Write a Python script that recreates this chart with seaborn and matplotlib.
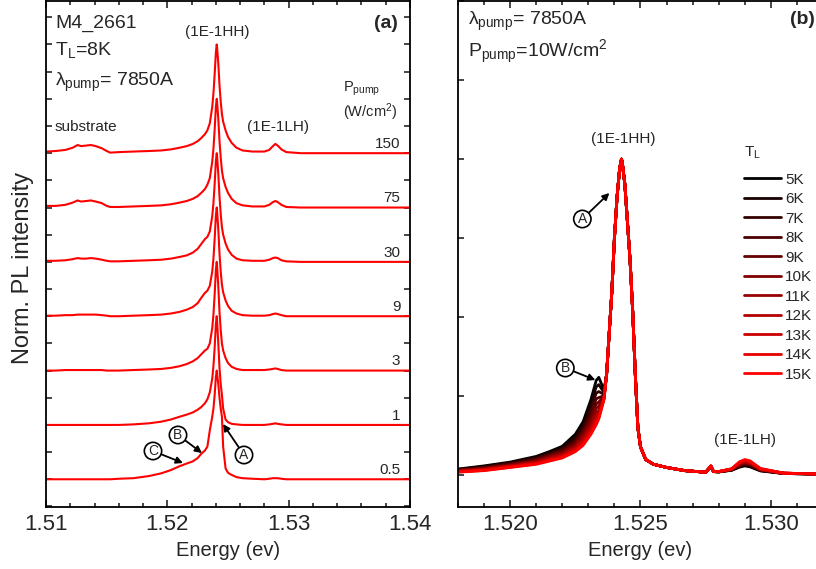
import numpy as np
import pandas as pd
import matplotlib
matplotlib.use("Agg")
import matplotlib.pyplot as plt
import seaborn as sns

# ---------------- data: panel (a) ----------------
powers = ["0.5", "1", "3", "9", "30", "75", "150"]
energy_a = [1.5100, 1.5108, 1.5116, 1.5122, 1.5126, 1.5129, 1.5133, 1.5137, 1.5141, 1.5146,
            1.5150, 1.5153, 1.5160, 1.5172, 1.5185, 1.5195, 1.5203, 1.5210, 1.5216, 1.5221,
            1.5225, 1.5228, 1.5231, 1.5233, 1.5235, 1.5237, 1.5238, 1.5239, 1.52400, 1.52407,
            1.5241, 1.5242, 1.5243, 1.5244, 1.5245, 1.5246, 1.5248, 1.5250, 1.5253, 1.5257,
            1.5262, 1.5270, 1.5280, 1.5284, 1.5287, 1.5289, 1.5291, 1.5294, 1.5298, 1.5310,
            1.5400]
pl_0p5 = [0.00, 0.00, 0.00, 0.00, 0.00, 0.00, 0.00, 0.00, 0.00, 0.00,
          0.00, 0.00, 0.01, 0.02, 0.06, 0.11, 0.17, 0.24, 0.29, 0.33,
          0.39, 0.47, 0.53, 0.60, 0.90, 1.15, 1.30, 1.55, 1.88, 2.00,
          1.95, 1.75, 1.50, 1.30, 1.15, 0.60, 0.20, 0.12, 0.08, 0.04,
          0.02, 0.01, 0.00, 0.01, 0.02, 0.02, 0.02, 0.01, 0.00, 0.00,
          0.00]
pl_1 = [0.00, 0.00, 0.00, 0.00, 0.00, 0.00, 0.00, 0.00, 0.00, 0.00,
        0.00, 0.00, 0.00, 0.01, 0.03, 0.06, 0.10, 0.15, 0.19, 0.23,
        0.28, 0.33, 0.40, 0.47, 0.60, 0.85, 1.08, 1.42, 1.85, 2.00,
        1.92, 1.50, 1.05, 0.75, 0.55, 0.30, 0.10, 0.05, 0.02, 0.01,
        0.00, 0.00, 0.00, 0.01, 0.02, 0.03, 0.02, 0.01, 0.00, 0.00,
        0.00]
pl_3 = [0.00, 0.00, 0.01, 0.01, 0.01, 0.01, 0.01, 0.01, 0.01, 0.01,
        0.00, 0.00, 0.00, 0.01, 0.02, 0.03, 0.05, 0.08, 0.12, 0.17,
        0.23, 0.30, 0.37, 0.40, 0.50, 0.78, 1.03, 1.40, 1.85, 2.00,
        1.93, 1.55, 1.08, 0.74, 0.50, 0.37, 0.23, 0.14, 0.07, 0.03,
        0.01, 0.01, 0.01, 0.02, 0.03, 0.04, 0.03, 0.01, 0.00, 0.00,
        0.00]
pl_9 = [0.01, 0.01, 0.02, 0.02, 0.03, 0.03, 0.03, 0.03, 0.03, 0.02,
        0.01, 0.00, 0.00, 0.01, 0.02, 0.03, 0.05, 0.08, 0.12, 0.17,
        0.24, 0.34, 0.43, 0.47, 0.56, 0.82, 1.06, 1.42, 1.85, 2.00,
        1.94, 1.60, 1.15, 0.82, 0.58, 0.44, 0.29, 0.19, 0.10, 0.05,
        0.02, 0.01, 0.01, 0.02, 0.04, 0.05, 0.04, 0.02, 0.00, 0.00,
        0.00]
pl_30 = [0.02, 0.02, 0.03, 0.05, 0.07, 0.06, 0.06, 0.07, 0.06, 0.04,
         0.02, 0.01, 0.01, 0.02, 0.03, 0.04, 0.06, 0.09, 0.12, 0.17,
         0.24, 0.33, 0.42, 0.46, 0.56, 0.84, 1.08, 1.43, 1.85, 2.00,
         1.95, 1.62, 1.20, 0.88, 0.64, 0.50, 0.34, 0.23, 0.13, 0.06,
         0.03, 0.02, 0.02, 0.04, 0.07, 0.08, 0.07, 0.03, 0.01, 0.00,
         0.00]
pl_75 = [0.03, 0.03, 0.05, 0.09, 0.13, 0.11, 0.12, 0.13, 0.11, 0.08,
         0.03, 0.01, 0.01, 0.02, 0.03, 0.04, 0.06, 0.09, 0.12, 0.16,
         0.21, 0.27, 0.34, 0.42, 0.54, 0.84, 1.08, 1.43, 1.85, 2.00,
         1.95, 1.63, 1.22, 0.92, 0.68, 0.54, 0.38, 0.27, 0.16, 0.08,
         0.04, 0.02, 0.02, 0.05, 0.10, 0.12, 0.10, 0.05, 0.01, 0.00,
         0.00]
pl_150 = [0.03, 0.04, 0.06, 0.10, 0.15, 0.13, 0.14, 0.15, 0.13, 0.09,
          0.04, 0.01, 0.02, 0.03, 0.04, 0.05, 0.07, 0.10, 0.13, 0.17,
          0.22, 0.28, 0.35, 0.42, 0.55, 0.85, 1.10, 1.45, 1.85, 2.00,
          1.95, 1.65, 1.25, 0.95, 0.72, 0.58, 0.42, 0.30, 0.19, 0.10,
          0.05, 0.03, 0.03, 0.06, 0.13, 0.17, 0.14, 0.07, 0.02, 0.00,
          0.00]
spectra_a = [pl_0p5, pl_1, pl_3, pl_9, pl_30, pl_75, pl_150]

# ---------------- data: panel (b) ----------------
temps = ["5K", "6K", "7K", "8K", "9K", "10K", "11K", "12K", "13K", "14K", "15K"]
energy_wing = [1.5180, 1.5190, 1.5200, 1.5210, 1.5215, 1.5220, 1.5225, 1.5228, 1.5231, 1.5233, 1.5234, 1.5236]
energy_core = [1.5237, 1.5238, 1.5239, 1.5240, 1.5241, 1.5242, 1.52427, 1.5243, 1.5244, 1.5245,
               1.5246, 1.5247, 1.5248, 1.5249, 1.5250, 1.5252, 1.5255, 1.5260, 1.5267]
energy_tail = [1.5275, 1.5277, 1.5278, 1.5280, 1.5285, 1.5288, 1.5290, 1.5292, 1.5296, 1.5305, 1.5320]
core_b = [0.32, 0.45, 0.58, 0.75, 0.88, 0.97, 1.00, 0.99, 0.92, 0.80,
          0.68, 0.52, 0.32, 0.15, 0.09, 0.05, 0.035, 0.025, 0.015]
wing_b = [
    [0.020, 0.030, 0.042, 0.060, 0.075, 0.092, 0.130, 0.170, 0.240, 0.300, 0.310, 0.270],
    [0.019, 0.028, 0.040, 0.057, 0.071, 0.087, 0.122, 0.160, 0.225, 0.280, 0.287, 0.262],
    [0.018, 0.026, 0.038, 0.054, 0.068, 0.083, 0.115, 0.151, 0.210, 0.260, 0.265, 0.256],
    [0.017, 0.025, 0.036, 0.051, 0.065, 0.079, 0.108, 0.142, 0.196, 0.242, 0.246, 0.252],
    [0.016, 0.023, 0.034, 0.048, 0.062, 0.075, 0.102, 0.134, 0.184, 0.226, 0.232, 0.250],
    [0.015, 0.022, 0.032, 0.046, 0.059, 0.071, 0.097, 0.127, 0.173, 0.212, 0.219, 0.248],
    [0.014, 0.020, 0.031, 0.043, 0.056, 0.067, 0.092, 0.119, 0.162, 0.198, 0.206, 0.246],
    [0.013, 0.019, 0.029, 0.041, 0.053, 0.064, 0.087, 0.113, 0.152, 0.186, 0.196, 0.244],
    [0.012, 0.017, 0.028, 0.039, 0.050, 0.061, 0.083, 0.106, 0.143, 0.176, 0.188, 0.242],
    [0.011, 0.016, 0.026, 0.037, 0.047, 0.058, 0.079, 0.100, 0.136, 0.168, 0.182, 0.241],
    [0.010, 0.015, 0.025, 0.035, 0.045, 0.055, 0.075, 0.095, 0.130, 0.160, 0.178, 0.240],
]
tail_b = [
    [0.010, 0.028, 0.012, 0.011, 0.016, 0.026, 0.030, 0.027, 0.014, 0.006, 0.004],
    [0.010, 0.028, 0.012, 0.011, 0.017, 0.028, 0.032, 0.029, 0.015, 0.006, 0.004],
    [0.010, 0.028, 0.012, 0.011, 0.017, 0.029, 0.034, 0.031, 0.016, 0.006, 0.004],
    [0.010, 0.028, 0.012, 0.011, 0.018, 0.031, 0.036, 0.033, 0.016, 0.006, 0.004],
    [0.010, 0.029, 0.012, 0.011, 0.018, 0.033, 0.038, 0.035, 0.017, 0.006, 0.004],
    [0.010, 0.029, 0.012, 0.012, 0.019, 0.035, 0.040, 0.037, 0.018, 0.007, 0.004],
    [0.010, 0.029, 0.012, 0.012, 0.019, 0.036, 0.042, 0.038, 0.018, 0.007, 0.004],
    [0.010, 0.030, 0.012, 0.012, 0.020, 0.038, 0.044, 0.040, 0.019, 0.007, 0.004],
    [0.010, 0.030, 0.012, 0.012, 0.020, 0.040, 0.046, 0.042, 0.020, 0.007, 0.004],
    [0.010, 0.030, 0.012, 0.012, 0.021, 0.042, 0.048, 0.044, 0.021, 0.007, 0.004],
    [0.010, 0.030, 0.012, 0.012, 0.021, 0.043, 0.050, 0.046, 0.022, 0.007, 0.004],
]

# ---------------- style ----------------
sns.set_style("ticks")
plt.rcParams.update({
    "font.family": ["Liberation Sans", "DejaVu Sans"],
    "mathtext.fontset": "custom",
    "mathtext.rm": "Liberation Sans",
    "mathtext.it": "Liberation Sans",
    "mathtext.bf": "Liberation Sans:bold",
    "axes.linewidth": 1.3,
    "xtick.direction": "in",
    "ytick.direction": "in",
})

fig = plt.figure(figsize=(8.16, 5.69), dpi=100)
W, H = 816, 569
axa = fig.add_axes([46 / W, (H - 507) / H, 364 / W, 506 / H])
axb = fig.add_axes([458 / W, (H - 507) / H, 365 / W, 506 / H])

# ---- panel (a)
rows = []
for i, (p, s) in enumerate(zip(powers, spectra_a)):
    for e, v in zip(energy_a, s):
        rows.append({"energy": e, "pl": v + i, "power": p})
df_a = pd.DataFrame(rows)
for p in powers:
    sub = df_a[df_a["power"] == p]
    sns.lineplot(data=sub, x="energy", y="pl", color="#ff0000", lw=1.5, ax=axa,
                 estimator=None, sort=False)

axa.set_xlim(1.51, 1.54)
axa.set_ylim(-0.51, 8.8)
axa.set_xticks([1.51, 1.52, 1.53, 1.54])
axa.set_xticklabels(["1.51", "1.52", "1.53", "1.54"])
axa.set_xticks(np.arange(1.51, 1.5401, 0.002), minor=True)
axa.set_yticks(np.arange(-0.5, 8.8, 0.5))
axa.set_yticklabels([])
axa.set_xlabel("Energy (ev)", fontsize=14.5, labelpad=4)
axa.set_ylabel("Norm. PL intensity", fontsize=17)
axa.yaxis.set_label_coords(-0.034, 0.472)

for i, p in enumerate(powers):
    axa.text(1.5392, i + 0.04, p, ha="right", va="bottom", fontsize=11)

ta = axa.transAxes
def fx(px, x0=46, w=364):
    return (px - x0) / w
def fy(py):
    return (507 - py) / 506

axa.text(fx(55), fy(23), "M4_2661", transform=ta, fontsize=14, va="center", ha="left")
axa.text(fx(55), fy(50), r"T$_{\rm L}$=8K", transform=ta, fontsize=14, va="center", ha="left")
axa.text(fx(55), fy(82), r"$\lambda_{\rm pump}$= 7850A", transform=ta, fontsize=14, va="center", ha="left")
axa.text(fx(398), fy(23), "(a)", transform=ta, fontsize=14, fontweight="bold", va="center", ha="right")
axa.text(fx(217), fy(32), "(1E-1HH)", transform=ta, fontsize=11, va="center", ha="center")
axa.text(fx(278), fy(127), "(1E-1LH)", transform=ta, fontsize=11, va="center", ha="center")
axa.text(fx(55), fy(127), "substrate", transform=ta, fontsize=11, va="center", ha="left")
axa.text(fx(343), fy(89), r"P$_{\rm pump}$", transform=ta, fontsize=10.5, va="center", ha="left")
axa.text(fx(343), fy(112), r"(W/cm$^{2}$)", transform=ta, fontsize=10.5, va="center", ha="left")

circ = dict(boxstyle="circle,pad=0.12", fc="white", ec="black", lw=1.2)
arr = dict(arrowstyle="-|>", color="black", lw=1.3, mutation_scale=10, shrinkA=0, shrinkB=0)
def annot(ax, label, tip, txt, x0):
    ax.annotate(label, xy=(fx(tip[0], x0), fy(tip[1])), xycoords="axes fraction",
                xytext=(fx(txt[0], x0), fy(txt[1])), textcoords="axes fraction",
                fontsize=10, ha="center", va="center", bbox=circ, arrowprops=arr)

annot(axa, "C", (183, 463), (153, 451), 46)
annot(axa, "B", (202, 453), (178, 435), 46)
annot(axa, "A", (223, 424), (244, 455), 46)

# ---- panel (b)
palette = sns.blend_palette(["#000000", "#ff0000"], n_colors=len(temps))
energy_b = energy_wing + energy_core + energy_tail
for t, wng, tl, c in zip(temps, wing_b, tail_b, palette):
    vals = wng + core_b + tl
    sns.lineplot(x=energy_b, y=vals, color=c, lw=2.0, ax=axb, label=t,
                 estimator=None, sort=False)

axb.set_xlim(1.518, 1.532)
axb.set_ylim(-0.1, 1.5)
axb.set_xticks([1.520, 1.525, 1.530])
axb.set_xticklabels(["1.520", "1.525", "1.530"])
axb.set_xticks(np.arange(1.518, 1.5321, 0.001), minor=True)
axb.set_yticks(np.arange(0.0, 1.51, 0.25))
axb.set_yticklabels([])
axb.set_xlabel("Energy (ev)", fontsize=14.5, labelpad=4)

tb = axb.transAxes
axb.text(fx(468, 458, 365), fy(21), r"$\lambda_{\rm pump}$= 7850A", transform=tb, fontsize=14, va="center", ha="left")
axb.text(fx(468, 458, 365), fy(52), r"P$_{\rm pump}$=10W/cm$^{2}$", transform=tb, fontsize=14, va="center", ha="left")
axb.text(fx(815, 458, 365), fy(20), "(b)", transform=tb, fontsize=14, fontweight="bold", va="center", ha="right")
axb.text(fx(623, 458, 365), fy(139), "(1E-1HH)", transform=tb, fontsize=11, va="center", ha="center")
axb.text(fx(745, 458, 365), fy(440), "(1E-1LH)", transform=tb, fontsize=11, va="center", ha="center")
annot(axb, "A", (609, 193), (582, 219), 458)
annot(axb, "B", (595, 380), (565, 368), 458)

leg = axb.legend(title=r"T$_{\rm L}$", loc="upper left",
                 bbox_to_anchor=(fx(744, 458, 365), fy(145)), frameon=False,
                 fontsize=11, title_fontsize=11, handlelength=2.4, handletextpad=0.3,
                 labelspacing=0.36, borderaxespad=0, borderpad=0)
leg._legend_box.align = "left"
leg._legend_box.sep = 8

for ax in (axa, axb):
    ax.tick_params(which="both", top=True, right=True, direction="in", width=1.2)
    ax.tick_params(which="major", length=5, labelsize=16, pad=5)
    ax.tick_params(which="minor", length=3)
    ax.tick_params(axis="y", which="major", length=4)
    for s in ax.spines.values():
        s.set_visible(True)
        s.set_color("black")

fig.savefig("out.png", dpi=100)
